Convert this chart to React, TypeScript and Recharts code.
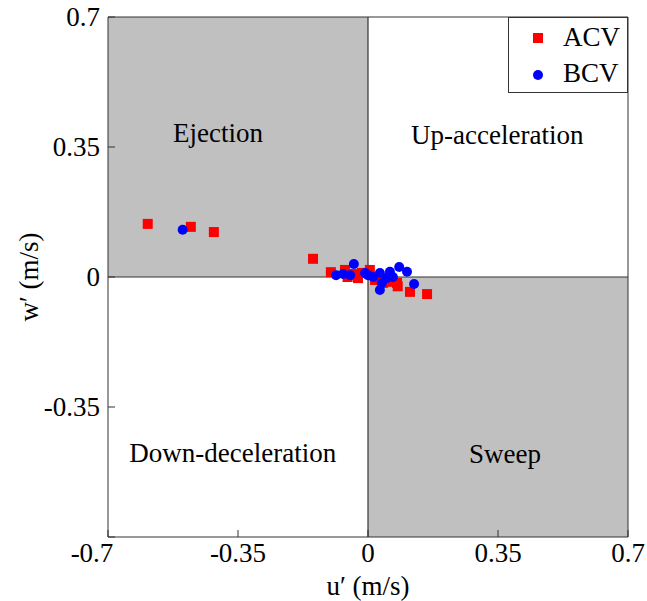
import {
    ReferenceArea,
    ReferenceDot,
    ReferenceLine,
    Scatter,
    ScatterChart,
    XAxis,
    YAxis,
} from "recharts"

// velocity fluctuations
const acvU = [-0.593, -0.477, -0.415, -0.148, -0.1, -0.062, -0.055, -0.043, -0.035, -0.027, -0.016, 0.005, 0.019, 0.04, 0.065, 0.08, 0.078, 0.113, 0.159]
const acvW = [0.143, 0.135, 0.121, 0.049, 0.013, 0.019, 0.0, 0.005, 0.008, -0.003, 0.011, 0.019, -0.008, -0.016, -0.013, -0.025, -0.016, -0.04, -0.046]

const bcvU = [-0.499, -0.086, -0.067, -0.048, -0.038, -0.008, 0.0, 0.014, 0.032, 0.037, 0.032, 0.05, 0.059, 0.067, 0.084, 0.105, 0.124]
const bcvW = [0.127, 0.005, 0.008, 0.005, 0.035, 0.011, 0.005, 0.0, 0.011, -0.017, -0.035, -0.003, 0.014, 0.0, 0.027, 0.014, -0.019]

const ticks = [-0.7, -0.35, 0, 0.35, 0.7]

const quadrantNames = ["Ejection", "Up-acceleration", "Down-deceleration", "Sweep"]
const quadrantU = [-0.404, 0.348, -0.364, 0.369]
const quadrantW = [0.388, 0.383, -0.472, -0.474]

const acv = acvU.map((u, i) => ({ u, w: acvW[i] }))
const bcv = bcvU.map((u, i) => ({ u, w: bcvW[i] }))

const FONT = "'Liberation Serif', 'Times New Roman', serif"
const FS = 27
const GRAY = "#c0c0c0"
const AXIS = "#333"
const textStyle = { fill: "#000", fontSize: FS, fontFamily: FONT }

const Square = (p: any) => (
    <rect x={p.cx - 5} y={p.cy - 5} width={10} height={10} fill="#ff0000" />
)
const Dot = (p: any) => <circle cx={p.cx} cy={p.cy} r={5} fill="#0000ff" />

// bottom tick labels; the -0.7 corner label sits a bit left like the original
const XTick = (p: any) => {
    const v = p.payload.value
    return (
        <text x={p.x} y={p.y} dx={v === -0.7 ? -16 : 0} dy={20} textAnchor="middle" {...textStyle}>
            {String(v)}
        </text>
    )
}

// left tick labels; -0.7 is shared with the x axis label
const YTick = (p: any) => {
    const v = p.payload.value
    if (v === -0.7) return <g />
    return (
        <text x={p.x} y={p.y} dy={9} textAnchor="end" {...textStyle}>
            {String(v)}
        </text>
    )
}

const NoTick = () => <g />

function LegendBox() {
    return (
        <div
            style={{
                position: "absolute",
                left: 508,
                top: 17,
                width: 120,
                height: 76,
                border: `1px solid ${AXIS}`,
                background: "#fff",
                boxSizing: "border-box",
                fontFamily: FONT,
                fontSize: FS,
                lineHeight: `${FS}px`,
            }}
        >
            <div style={{ position: "absolute", left: 24, top: 15, width: 10, height: 10, background: "#ff0000" }} />
            <div style={{ position: "absolute", left: 54, top: 6 }}>ACV</div>
            <div style={{ position: "absolute", left: 24, top: 52, width: 10, height: 10, borderRadius: 5, background: "#0000ff" }} />
            <div style={{ position: "absolute", left: 54, top: 42 }}>BCV</div>
        </div>
    )
}

export default function App() {
    return (
        <div style={{ position: "absolute", left: 0, top: 0, width: 647, height: 601, background: "#fff" }}>
            <ScatterChart width={647} height={601} margin={{ top: 16, right: 18, left: 0, bottom: 0 }}>
                <XAxis
                    type="number"
                    dataKey="u"
                    xAxisId="b"
                    domain={[-0.7, 0.7]}
                    ticks={ticks}
                    height={64}
                    stroke={AXIS}
                    tick={XTick}
                    tickSize={-7}
                    tickMargin={12}
                    label={{ value: "u′ (m/s)", position: "insideBottom", offset: 6, style: textStyle, fontFamily: FONT, fontSize: FS, fill: "#000" }}
                />
                <XAxis
                    type="number"
                    dataKey="u"
                    xAxisId="t"
                    orientation="top"
                    domain={[-0.7, 0.7]}
                    ticks={ticks}
                    height={1}
                    stroke={AXIS}
                    tick={NoTick}
                    tickLine={{ stroke: AXIS }}
                    tickSize={-7}
                />
                <YAxis
                    type="number"
                    dataKey="w"
                    yAxisId="l"
                    domain={[-0.7, 0.7]}
                    ticks={ticks}
                    width={108}
                    stroke={AXIS}
                    tick={YTick}
                    tickSize={-7}
                    tickMargin={15}
                    label={{
                        value: "w′ (m/s)",
                        angle: -90,
                        position: "insideLeft",
                        offset: 28,
                        fontFamily: FONT,
                        fontSize: FS,
                        fill: "#000",
                        style: { ...textStyle, textAnchor: "middle" },
                    }}
                />
                <YAxis
                    type="number"
                    dataKey="w"
                    yAxisId="r"
                    orientation="right"
                    domain={[-0.7, 0.7]}
                    ticks={ticks}
                    width={1}
                    stroke={AXIS}
                    tick={NoTick}
                    tickLine={{ stroke: AXIS }}
                    tickSize={-7}
                />
                <ReferenceArea xAxisId="b" yAxisId="l" x1={-0.7} x2={0} y1={0} y2={0.7} fill={GRAY} fillOpacity={1} stroke="none" />
                <ReferenceArea xAxisId="b" yAxisId="l" x1={0} x2={0.7} y1={-0.7} y2={0} fill={GRAY} fillOpacity={1} stroke="none" />
                <ReferenceLine xAxisId="b" yAxisId="l" x={0} stroke={AXIS} strokeWidth={1.2} />
                <ReferenceLine xAxisId="b" yAxisId="l" y={0} stroke={AXIS} strokeWidth={1.2} />
                {quadrantNames.map((name, i) => (
                    <ReferenceDot
                        key={name}
                        xAxisId="b"
                        yAxisId="l"
                        x={quadrantU[i]}
                        y={quadrantW[i]}
                        r={0}
                        fill="none"
                        stroke="none"
                        label={{ value: name, position: "center", style: textStyle }}
                    />
                ))}
                <Scatter name="ACV" data={acv} xAxisId="b" yAxisId="l" shape={Square} isAnimationActive={false} />
                <Scatter name="BCV" data={bcv} xAxisId="b" yAxisId="l" shape={Dot} isAnimationActive={false} />
            </ScatterChart>
            <LegendBox />
        </div>
    )
}
